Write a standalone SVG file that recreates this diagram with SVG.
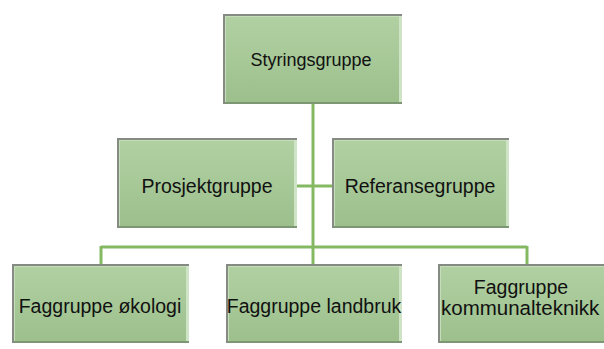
<svg xmlns="http://www.w3.org/2000/svg" width="604" height="349" viewBox="0 0 604 349">
  <defs>
    <linearGradient id="g" x1="0" y1="0" x2="0" y2="1">
      <stop offset="0" stop-color="#b2d1a3"/>
      <stop offset="1" stop-color="#9cbf8c"/>
    </linearGradient>
    <style>
      .box { fill: url(#g); }
      .tl { fill: none; stroke: #858a83; stroke-width: 2; }
      .inner { fill: none; stroke: #c6ddbb; stroke-width: 1; }
      .br { fill: none; stroke: #7d9774; stroke-width: 2; }
      .rl { fill: none; stroke: #cfe3c6; stroke-width: 3; }
      .conn { fill: none; stroke: #84b962; stroke-width: 3; }
      .t { font-family: "Liberation Sans", Arial, sans-serif; fill: #111; text-anchor: middle; }
      .s1 { font-size: 18px; }
      .s2 { font-size: 19.5px; }
    </style>
  </defs>
  <rect width="604" height="349" fill="#ffffff"/>

  <g id="connectors">
    <path class="conn" d="M313 104 V264"/>
    <path class="conn" d="M297 186 H332"/>
    <path class="conn" d="M101 247 H527"/>
    <path class="conn" d="M101 246 V264"/>
    <path class="conn" d="M527 246 V264"/>
  </g>

  <g id="styringsgruppe">
    <rect class="box" x="223" y="14" width="179" height="90"/>
    <path class="rl" d="M400.5 16 V103"/>
    <path class="br" d="M223 103 H402"/>
    <path class="tl" d="M224 104 V15 H402"/>
    <path class="inner" d="M225.5 102 V16.5 H399"/>
    <text class="t s1" x="311" y="66">Styringsgruppe</text>
  </g>

  <g id="prosjektgruppe">
    <rect class="box" x="117" y="138" width="180" height="90"/>
    <path class="rl" d="M295.5 140 V227"/>
    <path class="br" d="M117 227 H297"/>
    <path class="tl" d="M118 228 V139 H297"/>
    <path class="inner" d="M119.5 226 V140.5 H294"/>
    <text class="t s2" x="207" y="193">Prosjektgruppe</text>
  </g>

  <g id="referansegruppe">
    <rect class="box" x="332" y="138" width="177" height="90"/>
    <path class="rl" d="M507.5 140 V227"/>
    <path class="br" d="M332 227 H509"/>
    <path class="tl" d="M333 228 V139 H509"/>
    <path class="inner" d="M334.5 226 V140.5 H506"/>
    <text class="t s2" x="420" y="193">Referansegruppe</text>
  </g>

  <g id="faggruppe-okologi">
    <rect class="box" x="12" y="264" width="177" height="79"/>
    <path class="rl" d="M187.5 266 V342"/>
    <path class="br" d="M12 342 H189"/>
    <path class="tl" d="M13 343 V265 H189"/>
    <path class="inner" d="M14.5 341 V266.5 H186"/>
    <text class="t s2" x="100" y="313">Faggruppe økologi</text>
  </g>

  <g id="faggruppe-landbruk">
    <rect class="box" x="226" y="264" width="176" height="79"/>
    <path class="rl" d="M400.5 266 V342"/>
    <path class="br" d="M226 342 H402"/>
    <path class="tl" d="M227 343 V265 H402"/>
    <path class="inner" d="M228.5 341 V266.5 H399"/>
    <text class="t s2" x="314" y="313">Faggruppe landbruk</text>
  </g>

  <g id="faggruppe-kommunalteknikk">
    <rect class="box" x="438" y="264" width="178" height="79"/>
    <path class="br" d="M438 342 H616"/>
    <path class="tl" d="M439 343 V265 H616"/>
    <path class="inner" d="M440.5 341 V266.5 H616"/>
    <text class="t s2" x="521" y="294">Faggruppe</text>
    <text class="t" x="441" y="315" style="text-anchor:start;font-size:20.5px">kommunalteknikk</text>
  </g>
</svg>
